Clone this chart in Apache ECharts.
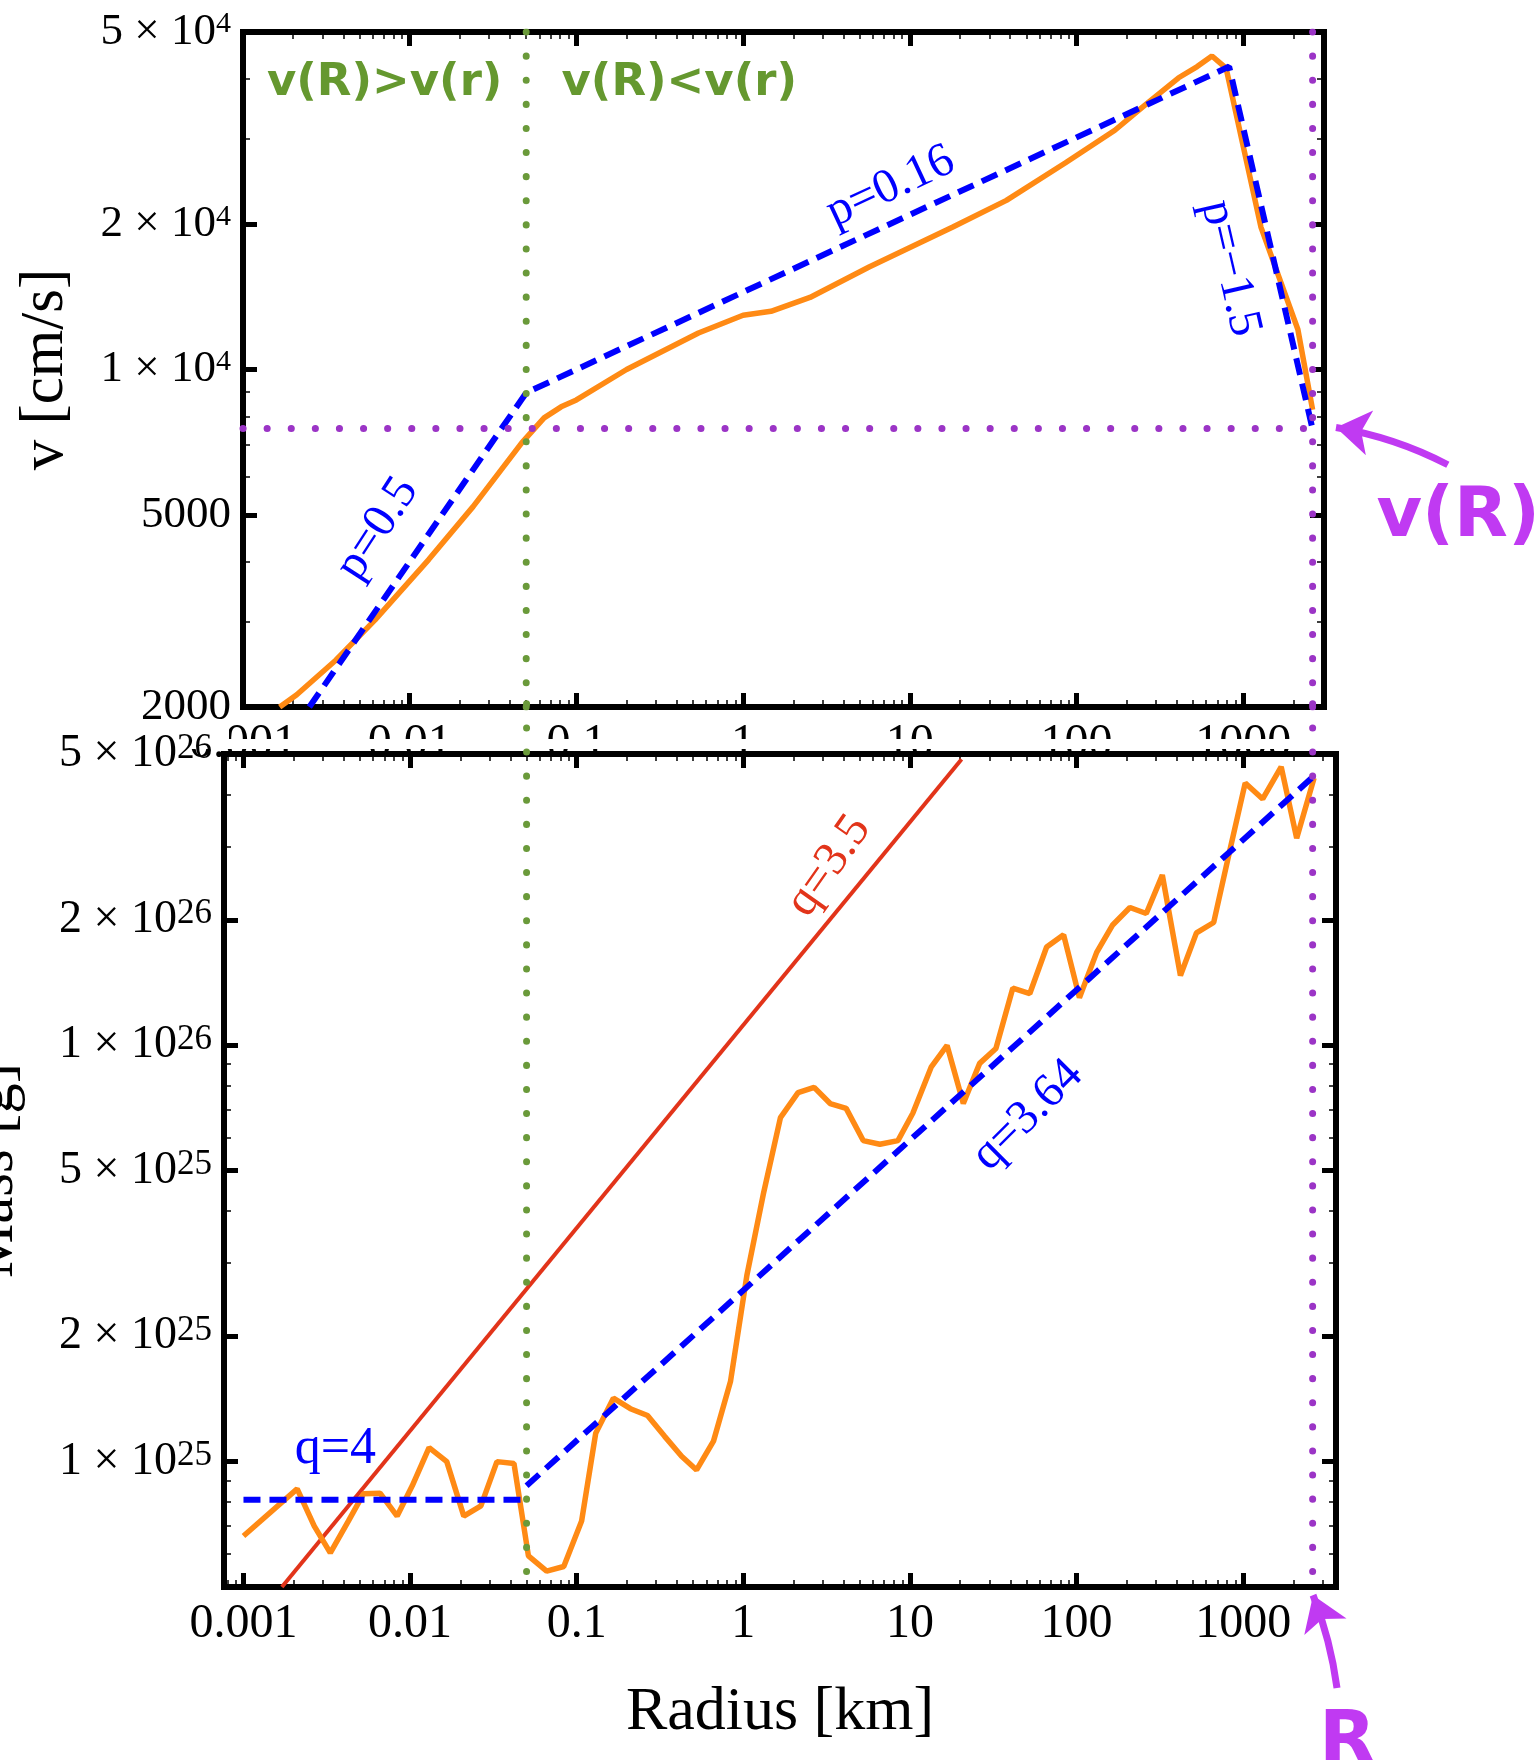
<!DOCTYPE html>
<html>
<head>
<meta charset="utf-8">
<script src="https://cdn.jsdelivr.net/npm/echarts@6.0.0/dist/echarts.min.js"></script>
<style>
  html, body { margin: 0; padding: 0; background: #fff; }
  #main { width: 1540px; height: 1760px; }
</style>
</head>
<body>
<div id="main"></div>
<script>
// velocity profile, top panel (r in km, v in cm/s)
var velR = [0.00166, 0.0021, 0.0036, 0.0062, 0.013, 0.024, 0.047, 0.064, 0.081, 0.1, 0.2, 0.54, 1.0, 1.47, 2.52, 5.7, 18, 38, 86, 170, 250, 410, 530, 650, 790, 1280, 2130, 2610];
var velV = [2000, 2120, 2500, 3030, 4040, 5200, 7050, 7940, 8370, 8650, 10000, 11900, 12950, 13200, 14100, 16300, 19700, 22400, 26800, 31300, 35000, 40200, 42400, 44600, 42100, 19700, 12100, 8250];
// broken power-law fit p=0.5 / 0.16 / -1.5
var velFitR = [0.0025, 0.05, 824, 2610];
var velFitV = [2000, 8950, 42400, 7520];

// enclosed mass, bottom panel (r in km, M in g)
var massR = [0.001, 0.0021, 0.00266, 0.00332, 0.00426, 0.00525, 0.0066, 0.00836, 0.0103, 0.013, 0.0166, 0.021, 0.0266, 0.0332, 0.042, 0.0513, 0.066, 0.0836, 0.107, 0.13, 0.166, 0.21, 0.266, 0.337, 0.426, 0.524, 0.662, 0.838, 1.05, 1.32, 1.67, 2.13, 2.66, 3.32, 4.14, 5.24, 6.6, 8.47, 10.4, 13.4, 16.7, 20.9, 26.2, 32.8, 41.4, 52.4, 66.1, 83.6, 104, 132, 164, 209, 262, 327, 420, 524, 665, 824, 1028, 1309, 1690, 2094, 2663];
var massM = [6.63e24, 8.6e24, 7.0e24, 6.04e24, 7.2e24, 8.37e24, 8.4e24, 7.4e24, 8.75e24, 1.08e25, 1.0e25, 7.4e24, 7.83e24, 1.0e25, 9.9e24, 5.94e24, 5.46e24, 5.6e24, 7.2e24, 1.17e25, 1.42e25, 1.34e25, 1.29e25, 1.15e25, 1.03e25, 9.55e24, 1.12e25, 1.56e25, 2.8e25, 4.4e25, 6.7e25, 7.69e25, 7.92e25, 7.24e25, 7.05e25, 5.9e25, 5.78e25, 5.9e25, 6.86e25, 8.85e25, 9.98e25, 7.24e25, 9.04e25, 9.82e25, 1.37e26, 1.33e26, 1.72e26, 1.84e26, 1.30e26, 1.67e26, 1.94e26, 2.14e26, 2.07e26, 2.56e26, 1.47e26, 1.86e26, 1.97e26, 2.89e26, 4.26e26, 3.9e26, 4.66e26, 3.14e26, 4.38e26];
var flatFitR = [0.001, 0.05];
var flatFitM = [8.1e24, 8.1e24];
var steepFitR = [0.05, 2610];
var steepFitM = [8.75e24, 4.4e26];
var redR = [0.0017, 20.4];
var redM = [5e24, 4.86e26];

var rSplit = 0.05;   // green divider
var rEdge = 2610;    // R
var vEdge = 7550;    // v(R)

var xTicks = [0.001, 0.01, 0.1, 1, 10, 100, 1000];
var vTicks = [2000, 5000, 1e4, 2e4, 5e4];
var mTicks = [1e25, 2e25, 5e25, 1e26, 2e26, 5e26];
var mantissas = [2, 3, 4, 5, 6, 7, 8, 9];

var serif = "'Liberation Serif', 'Times New Roman', serif";
var sans = "'DejaVu Sans', sans-serif";
var blue = '#0000ff', orange = '#ff8a14', red = '#e2341a';
var green = '#65982f', dotGreen = '#6a9a3a', dotPurple = '#9b34c6', purple = '#c03af2';

function pairs(xs, ys) { return xs.map(function (x, i) { return [x, ys[i]]; }); }
function minors(lo, hi) {
  var out = [];
  for (var e = -4; e <= 27; e++) {
    mantissas.forEach(function (m) {
      var v = m * Math.pow(10, e);
      if (v > lo && v < hi) out.push(v);
    });
  }
  return out;
}
function xFmt(v) {
  var e = Math.round(Math.log10(v));
  return e < 0 ? v.toFixed(-e) : String(Math.round(v));
}
function yFmt(v) {
  var e = Math.floor(Math.log10(v) + 1e-6);
  var m = Math.round(v / Math.pow(10, e));
  if (e < 4) return '{p|' + Math.round(v) + '}';
  return '{b|' + m + ' \u00d7 10}{s|' + e + '}';
}
function yRich(base, sup) {
  return {
    p: { fontFamily: serif, fontSize: base, color: '#000' },
    b: { fontFamily: serif, fontSize: base, lineHeight: base, color: '#000', padding: [6, 0, 0, 0], verticalAlign: 'bottom' },
    s: { fontFamily: serif, fontSize: sup, lineHeight: sup, color: '#000', verticalAlign: 'top' }
  };
}

// ymax of the mass panel is nudged a hair above 5e26 so the top tick survives float rounding
var grids = [
  { left: 243, top: 32, width: 1081, height: 675, min: 0.001, max: 3055, ymin: 2000, ymax: 5.0005e4, yTicks: vTicks, z: 0, rich: yRich(45, 30) },
  { left: 224, top: 754, width: 1112, height: 833, min: 0.000764, max: 3605, ymin: 5e24, ymax: 5.0005e26, yTicks: mTicks, z: 2, rich: yRich(46, 35) }
];

var xAxes = [], yAxes = [];
grids.forEach(function (g, gi) {
  var xm = minors(g.min, g.max), ym = minors(g.ymin, g.ymax);
  ['bottom', 'top'].forEach(function (pos) {
    [false, true].forEach(function (minor) {
      xAxes.push({
        type: 'log', gridIndex: gi, min: g.min, max: g.max, position: pos, z: g.z,
        axisLine: { show: !minor, lineStyle: { color: '#000', width: 6, cap: 'square' } },
        axisTick: { show: true, inside: true, length: minor ? 7 : 14, customValues: minor ? xm : xTicks,
          lineStyle: { color: '#000', width: minor ? 1.5 : 5 } },
        axisLabel: (pos === 'bottom' && !minor) ? { show: true, customValues: xTicks, formatter: xFmt,
          fontFamily: serif, fontSize: 48, color: '#000', margin: 13 } : { show: false },
        splitLine: { show: false },
        name: (gi === 1 && pos === 'bottom' && !minor) ? 'Radius [km]' : '',
        nameLocation: 'middle', nameGap: 95,
        nameTextStyle: { fontFamily: serif, fontSize: 62, color: '#000' }
      });
    });
  });
  ['left', 'right'].forEach(function (pos) {
    [false, true].forEach(function (minor) {
      yAxes.push({
        type: 'log', gridIndex: gi, min: g.ymin, max: g.ymax, position: pos, z: g.z,
        axisLine: { show: !minor, lineStyle: { color: '#000', width: 6, cap: 'square' } },
        axisTick: { show: true, inside: true, length: minor ? 7 : 14, customValues: minor ? ym : g.yTicks,
          lineStyle: { color: '#000', width: minor ? 1.5 : 5 } },
        axisLabel: (pos === 'left' && !minor) ? { show: true, customValues: g.yTicks, formatter: yFmt,
          rich: g.rich, margin: 12 } : { show: false },
        splitLine: { show: false },
        name: (pos === 'left' && !minor) ? (gi === 0 ? 'v [cm/s]' : 'Mass [g]') : '',
        nameLocation: 'middle', nameGap: gi === 0 ? 167 : 198,
        nameTextStyle: { fontFamily: serif, fontSize: 61, color: '#000' }
      });
    });
  });
});

function line(gi, data, color, width, type, extra) {
  var s = {
    type: 'line', xAxisIndex: gi * 4, yAxisIndex: gi * 4, data: data, z: 3,
    symbol: 'none', silent: true,
    lineStyle: { color: color, width: width, type: type || 'solid' }
  };
  for (var k in extra) s[k] = extra[k];
  return s;
}
var dots = [0.1, 24];
function dotted(gi, data, color, clip) {
  var s = line(gi, data, color, 7, dots, { clip: clip });
  s.lineStyle.cap = 'round';
  return s;
}
function note(text, x, y, rot, color, font, size, weight) {
  return { value: [x, y], label: { formatter: text, rotate: rot, color: color, fontFamily: font,
    fontSize: size, fontWeight: weight || 'normal', textBorderWidth: 0, textShadowBlur: 0, opacity: 1 } };
}
function notes(gi, data) {
  return { type: 'scatter', xAxisIndex: gi * 4, yAxisIndex: gi * 4, symbolSize: 0, clip: false, z: 4,
    silent: true, itemStyle: { color: '#000' },
    label: { show: true, position: 'inside', textBorderWidth: 0 }, data: data };
}
function arrow(gi, from, to, curve) {
  return { type: 'lines', coordinateSystem: 'cartesian2d', xAxisIndex: gi * 4, yAxisIndex: gi * 4,
    clip: false, z: 4, silent: true, symbol: ['none', 'arrow'], symbolSize: [32, 34],
    lineStyle: { color: purple, width: 7, curveness: curve, opacity: 1 },
    data: [{ coords: [from, to] }] };
}

var option = {
  animation: false,
  backgroundColor: '#fff',
  grid: grids.map(function (g) {
    return { left: g.left, top: g.top, width: g.width, height: g.height, show: false,
      containLabel: false, outerBoundsMode: 'none' };
  }),
  xAxis: xAxes,
  yAxis: yAxes,
  graphic: [
    { type: 'rect', z: 1, shape: { x: 150, y: 739, width: 1250, height: 10 }, style: { fill: '#fff' } },
    { type: 'rect', z: 1, shape: { x: 150, y: 723, width: 79, height: 26 }, style: { fill: '#fff' } }
  ],
  series: [
    // top panel
    line(0, pairs(velR, velV), orange, 5.5),
    line(0, pairs(velFitR, velFitV), blue, 6, [17, 9]),
    dotted(0, [[rSplit, 5e4], [rSplit, 2000]], dotGreen, true),
    dotted(0, [[rEdge, 5e4], [rEdge, 2000]], dotPurple, true),
    dotted(0, [[0.001, vEdge], [3055, vEdge]], dotPurple, true),
    notes(0, [
      note('p=0.5', 0.00643, 4680, 57, blue, serif, 48),
      note('p=0.16', 7.69, 23900, 25, blue, serif, 48),
      note('p=\u22121.5', 836, 16200, -77, blue, serif, 48),
      note('v(R)>v(r)', 0.00708, 39200, 0, green, sans, 45, 'bold'),
      note('v(R)<v(r)', 0.414, 39200, 0, green, sans, 45, 'bold'),
      note('v(R)', 19500, 4930, 0, purple, sans, 70, 'bold')
    ]),
    arrow(0, [16900, 6350], [3605, 7585], -0.08),
    // bottom panel
    line(1, pairs(redR, redM), red, 4),
    line(1, pairs(massR, massM), orange, 5.5),
    line(1, pairs(flatFitR, flatFitM), blue, 6, [17, 9]),
    line(1, pairs(steepFitR, steepFitM), blue, 6, [17, 9]),
    dotted(1, [[rSplit, 6.6e26], [rSplit, 5.4e24]], dotGreen, false),
    dotted(1, [[rEdge, 6.6e26], [rEdge, 5.4e24]], dotPurple, false),
    notes(1, [
      note('q=3.5', 3.27, 2.69e26, 55, red, serif, 48),
      note('q=3.64', 50.9, 6.78e25, 45, blue, serif, 48),
      note('q=4', 0.00356, 1.07e25, 0, blue, serif, 52),
      note('R', 4225, 2.09e24, 0, purple, sans, 74, 'bold')
    ]),
    arrow(1, [3656, 2.86e24], [2625, 4.78e24], -0.06)
  ]
};

var chart = echarts.init(document.getElementById('main'), null, { renderer: 'canvas' });
chart.setOption(option);
</script>
</body>
</html>
